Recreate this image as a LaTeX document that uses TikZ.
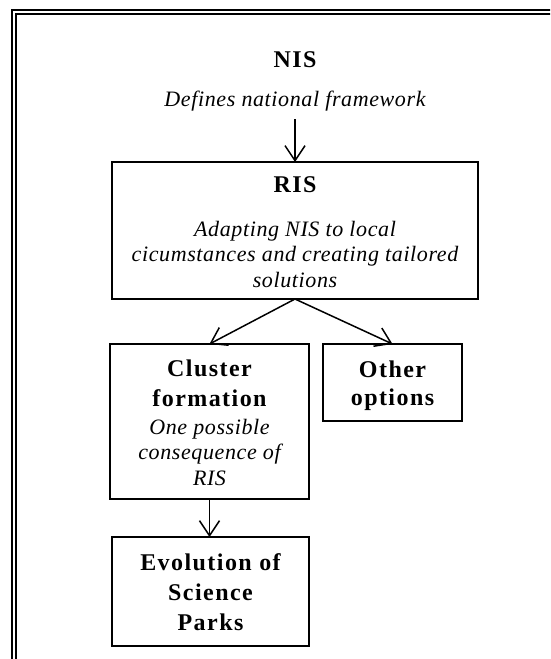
\documentclass[tikz,border=0pt]{standalone}
\usepackage{fontspec}
\setmainfont{Liberation Serif}
\newfontfamily\headfont[LetterSpace=6]{Liberation Serif Bold}
\newfontfamily\notefont[LetterSpace=2.8]{Liberation Serif Italic}
\usetikzlibrary{arrows.meta}
\tikzset{
  frameline/.style={line width=1.7pt},
  boxed/.style={draw, line width=1.6pt, inner sep=0pt, outer sep=0pt},
  % multi-line labels are anchored at the baseline of their last line
  head/.style={anchor=base, align=center, inner sep=0pt,
    font=\headfont\fontsize{24}{30}\selectfont},
  note/.style={anchor=base, align=center, inner sep=0pt,
    font=\notefont\fontsize{22}{25.5}\selectfont},
  link/.style={line width=1.5pt, -{Straight Barb[length=15pt,width=20pt]}},
}
\begin{document}
\begin{tikzpicture}[x=1pt,y=-1pt]
\useasboundingbox (0,0) rectangle (550,659);
\clip (0,0) rectangle (550,659);

% double frame, open towards the right and bottom
\draw[frameline] (11.8,680) -- (11.8,9.8) -- (570,9.8);
\draw[frameline] (15.8,680) -- (15.8,13.8) -- (570,13.8);

% NIS (no box)
\node[head] (nis) at (295,67) {NIS};
\node[note] (nisnote) at (295,106) {Defines national framework};
\coordinate (nisend) at (295,119);

% RIS
\node[boxed, minimum width=366pt, minimum height=137pt] (ris) at (295,230.5) {};
\node[head] (ristitle) at (295,192) {RIS};
\node[note] (risnote) at (295,287) {Adapting NIS to local\\cicumstances and creating tailored\\solutions};

% Cluster formation
\node[boxed, minimum width=199pt, minimum height=155pt] (cluster) at (209.5,421.5) {};
\node[head] (clustertitle) at (209.5,406) {Cluster\\formation};
\node[note] (clusternote) at (209.5,485) {One possible\\consequence of\\RIS};

% Other options
\node[boxed, minimum width=139pt, minimum height=77pt] (other) at (392.5,382.5) {};
\node[head, font=\headfont\fontsize{24}{28}\selectfont] (othertitle) at (392.5,405) {Other\\options};

% Evolution of Science Parks
\node[boxed, minimum width=197pt, minimum height=109pt] (evo) at (210.5,591.5) {};
\node[head] (evotitle) at (210.5,630) {Evolution of\\Science\\Parks};

% connectors
\draw[link] (nisend) -- (ris.north);
\draw[link] (ris.south) -- (cluster.north);
\draw[link] (ris.south) -- (other.north);
\draw[link] (cluster.south) -- (cluster.south |- evo.north);
\end{tikzpicture}
\end{document}
